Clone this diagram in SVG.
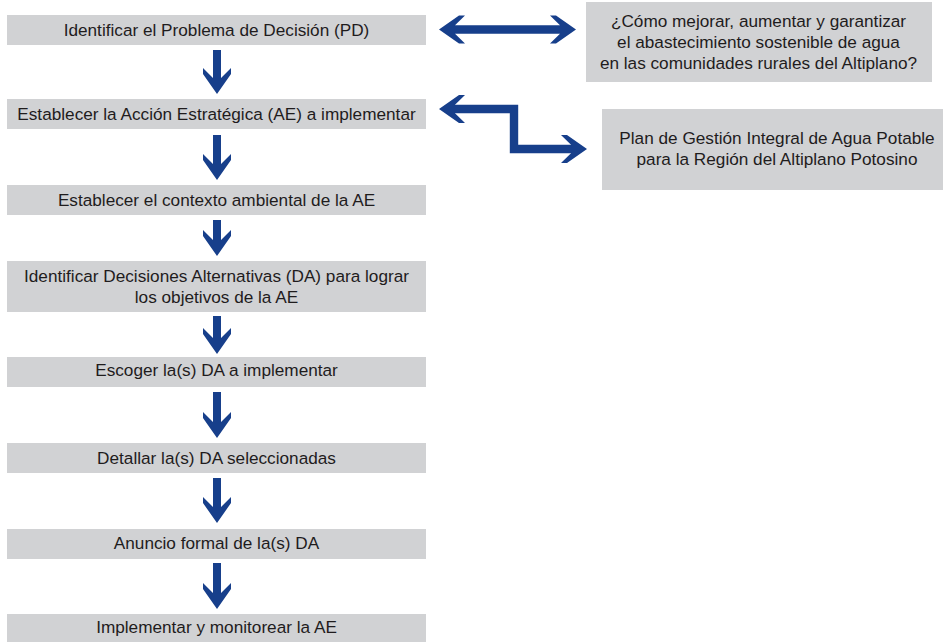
<svg xmlns="http://www.w3.org/2000/svg" width="943" height="642" viewBox="0 0 943 642">
  <style>
    .box { fill: #d1d2d4; }
    .lbl { font-family: "Liberation Sans", Arial, Helvetica, sans-serif; font-size: 17.2px; fill: #1f1c1d; text-anchor: middle; }
    .arrow { fill: #173f8b; }
    .shaft { fill: none; stroke: #173f8b; stroke-width: 8.4; stroke-linejoin: miter; }
  </style>
  <rect width="943" height="642" fill="#ffffff"/>

  <!-- process steps -->
  <g id="step-pd">
    <rect class="box" x="7" y="15" width="419" height="30"/>
    <text class="lbl" x="216.5" y="36">Identificar el Problema de Decisión (PD)</text>
  </g>
  <g id="step-ae">
    <rect class="box" x="7" y="99" width="419" height="30"/>
    <text class="lbl" x="216.5" y="120">Establecer la Acción Estratégica (AE) a implementar</text>
  </g>
  <g id="step-contexto">
    <rect class="box" x="7" y="185" width="419" height="30"/>
    <text class="lbl" x="216.5" y="206">Establecer el contexto ambiental de la AE</text>
  </g>
  <g id="step-da">
    <rect class="box" x="7" y="261" width="419" height="51"/>
    <text class="lbl" x="216.5" y="282">Identificar Decisiones Alternativas (DA) para lograr</text>
    <text class="lbl" x="216.5" y="303">los objetivos de la AE</text>
  </g>
  <g id="step-escoger">
    <rect class="box" x="7" y="357" width="419" height="30"/>
    <text class="lbl" x="216.5" y="375.5">Escoger la(s) DA a implementar</text>
  </g>
  <g id="step-detallar">
    <rect class="box" x="7" y="443" width="419" height="30"/>
    <text class="lbl" x="216.5" y="464">Detallar la(s) DA seleccionadas</text>
  </g>
  <g id="step-anuncio">
    <rect class="box" x="7" y="529" width="419" height="30"/>
    <text class="lbl" x="216.5" y="549">Anuncio formal de la(s) DA</text>
  </g>
  <g id="step-implementar">
    <rect class="box" x="7" y="614" width="419" height="30"/>
    <text class="lbl" x="216.5" y="633">Implementar y monitorear la AE</text>
  </g>

  <!-- side notes -->
  <g id="note-pregunta">
    <rect class="box" x="586" y="2" width="346" height="80"/>
    <text class="lbl" x="758.5" y="26.5">¿Cómo mejorar, aumentar y garantizar</text>
    <text class="lbl" x="758.5" y="47.5">el abastecimiento sostenible de agua</text>
    <text class="lbl" x="758.5" y="68.5">en las comunidades rurales del Altiplano?</text>
  </g>
  <g id="note-plan">
    <rect class="box" x="602" y="109" width="341" height="81"/>
    <text class="lbl" x="777" y="144">Plan de Gestión Integral de Agua Potable</text>
    <text class="lbl" x="777" y="165">para la Región del Altiplano Potosino</text>
  </g>

  <!-- connectors -->
  <g id="connectors">
    <!-- downward block arrows between steps -->
    <path class="arrow" d="M213 50 H221 V78 L231 68 V74 L217 94 L203 74 V68 L213 78 Z"/>
    <path class="arrow" d="M213 135 H221 V164 L231 154 V160 L217 180 L203 160 V154 L213 164 Z"/>
    <path class="arrow" d="M213 220 H221 V240 L231 230 V236 L217 256 L203 236 V230 L213 240 Z"/>
    <path class="arrow" d="M213 316 H221 V338 L231 328 V334 L217 354 L203 334 V328 L213 338 Z"/>
    <path class="arrow" d="M213 392 H221 V422 L231 412 V418 L217 438 L203 418 V412 L213 422 Z"/>
    <path class="arrow" d="M213 478 H221 V507 L231 497 V503 L217 523 L203 503 V497 L213 507 Z"/>
    <path class="arrow" d="M213 563 H221 V593 L231 583 V589 L217 609 L203 589 V583 L213 593 Z"/>

    <!-- two-way arrow to the question -->
    <path class="arrow" d="M439 29.5 L459 15.5 H465 L455 25.3 H560 L550 15.5 H556 L576 29.5 L556 43.5 H550 L560 33.7 H455 L465 43.5 H459 Z"/>

    <!-- stepped two-way arrow to the plan -->
    <path class="shaft" d="M454 109 H514 V149 H572"/>
    <path class="arrow" d="M439 109 L459 95 H465 L455 104.8 V113.2 L465 123 H459 Z"/>
    <path class="arrow" d="M587 149 L567 135 H561 L571 144.8 V153.2 L561 163 H567 Z"/>
  </g>
</svg>
